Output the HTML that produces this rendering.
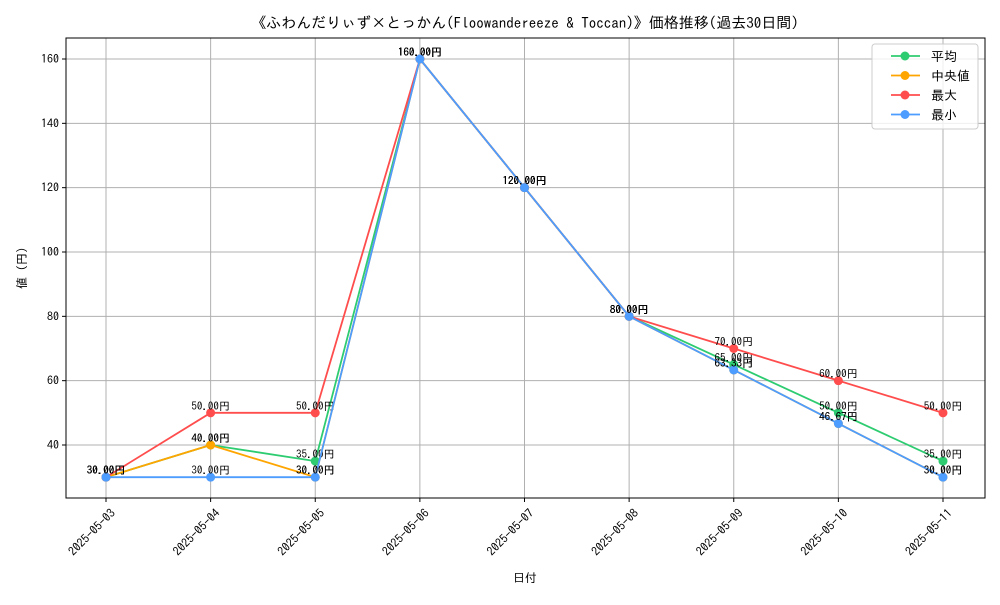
<!DOCTYPE html>
<html><head><meta charset="utf-8"><style>
body{margin:0;background:#fff}
svg text{font-family:"IPAGothic","Liberation Sans","Noto Sans CJK JP",sans-serif}
</style></head><body>
<svg id="chart" width="1000" height="600" xmlns="http://www.w3.org/2000/svg">
<rect width="1000" height="600" fill="#fff"/>
<text x="525" y="28" text-anchor="middle" font-size="15">《ふわんだりぃず×とっかん(Floowandereeze &amp; Toccan)》価格推移(過去30日間)</text>
<g id="grid"></g>
<g id="series"></g>
<rect x="66" y="38" width="919" height="460" fill="none" stroke="#000" stroke-width="1"/>
<text x="525" y="582" text-anchor="middle" font-size="12">日付</text>
<text transform="translate(26,268) rotate(-90)" text-anchor="middle" font-size="12">値 (円)</text>
<g id="legend"></g>
</svg>
<script>
const categories=["2025-05-03","2025-05-04","2025-05-05","2025-05-06","2025-05-07","2025-05-08","2025-05-09","2025-05-10","2025-05-11"];
const meanVals=[30,40,35,160,120,80,65,50,35];
const medianVals=[30,40,30,160,120,80,63.33,46.67,30];
const maxVals=[30,50,50,160,120,80,70,60,50];
const minVals=[30,30,30,160,120,80,63.33,46.67,30];
const yTicks=[40,60,80,100,120,140,160];
const seriesNames=["平均","中央値","最大","最小"];
const colors=["#2ecc71","#ffa500","#ff4d4d","#4d9cff"];
const NS="http://www.w3.org/2000/svg";
const xs=i=>106+i*(943-106)/(categories.length-1);
const ys=v=>445-(v-40)*(445-59)/120;
function mk(t,a,p){const e=document.createElementNS(NS,t);for(const k in a)e.setAttribute(k,a[k]);p.appendChild(e);return e;}
const grid=document.getElementById('grid');
categories.forEach((c,i)=>{
 const l=mk('line',{x1:xs(i),x2:xs(i),y1:38,y2:498,stroke:'#b0b0b0','stroke-width':1},grid);
 
 const tk=mk('line',{x1:xs(i),x2:xs(i),y1:498,y2:502,stroke:'#000'},grid);
 
 const t=mk('text',{transform:`translate(${xs(i)+4},${508}) rotate(-45)`,'text-anchor':'end','font-size':12,dy:'0.7em'},grid);
 t.textContent=c;
});
yTicks.forEach(v=>{
 const l=mk('line',{x1:66,x2:985,y1:ys(v),y2:ys(v),stroke:'#b0b0b0','stroke-width':1},grid);
 
 const tk=mk('line',{x1:62,x2:66,y1:ys(v),y2:ys(v),stroke:'#000'},grid);
 
 const t=mk('text',{x:59,y:ys(v)+4,'text-anchor':'end','font-size':12},grid);
 t.textContent=v;
});
const sg=document.getElementById('series');
[meanVals,medianVals,maxVals,minVals].forEach((vals,s)=>{
 const g=mk('g',{},sg);
 
 const p=mk('polyline',{points:vals.map((v,i)=>xs(i)+','+ys(v)).join(' '),fill:'none',stroke:colors[s],'stroke-width':1.8},g);
 
 vals.forEach((v,i)=>{
  const c=mk('circle',{cx:xs(i),cy:ys(v),r:4.5,fill:colors[s]},g);
  
  const t=mk('text',{x:xs(i),y:ys(v)-3,'text-anchor':'middle','font-size':11},g);
  t.textContent=v.toFixed(2)+'円';
 });
});
const lg=document.getElementById('legend');
const box=mk('rect',{x:872,y:44,width:106,height:85,rx:3,fill:'#fff','fill-opacity':0.8,stroke:'#ccc'},lg);

seriesNames.forEach((n,s)=>{
 const y=56+s*19.5;
 const e=mk('g',{},lg);
 
 mk('line',{x1:891,x2:920,y1:y,y2:y,stroke:colors[s],'stroke-width':1.8},e);
 mk('circle',{cx:905,cy:y,r:4.5,fill:colors[s]},e);
 const t=mk('text',{x:931,y:y+5,'font-size':13},e);t.textContent=(s==1?' ':'')+n;
});
</script>
</body></html>
